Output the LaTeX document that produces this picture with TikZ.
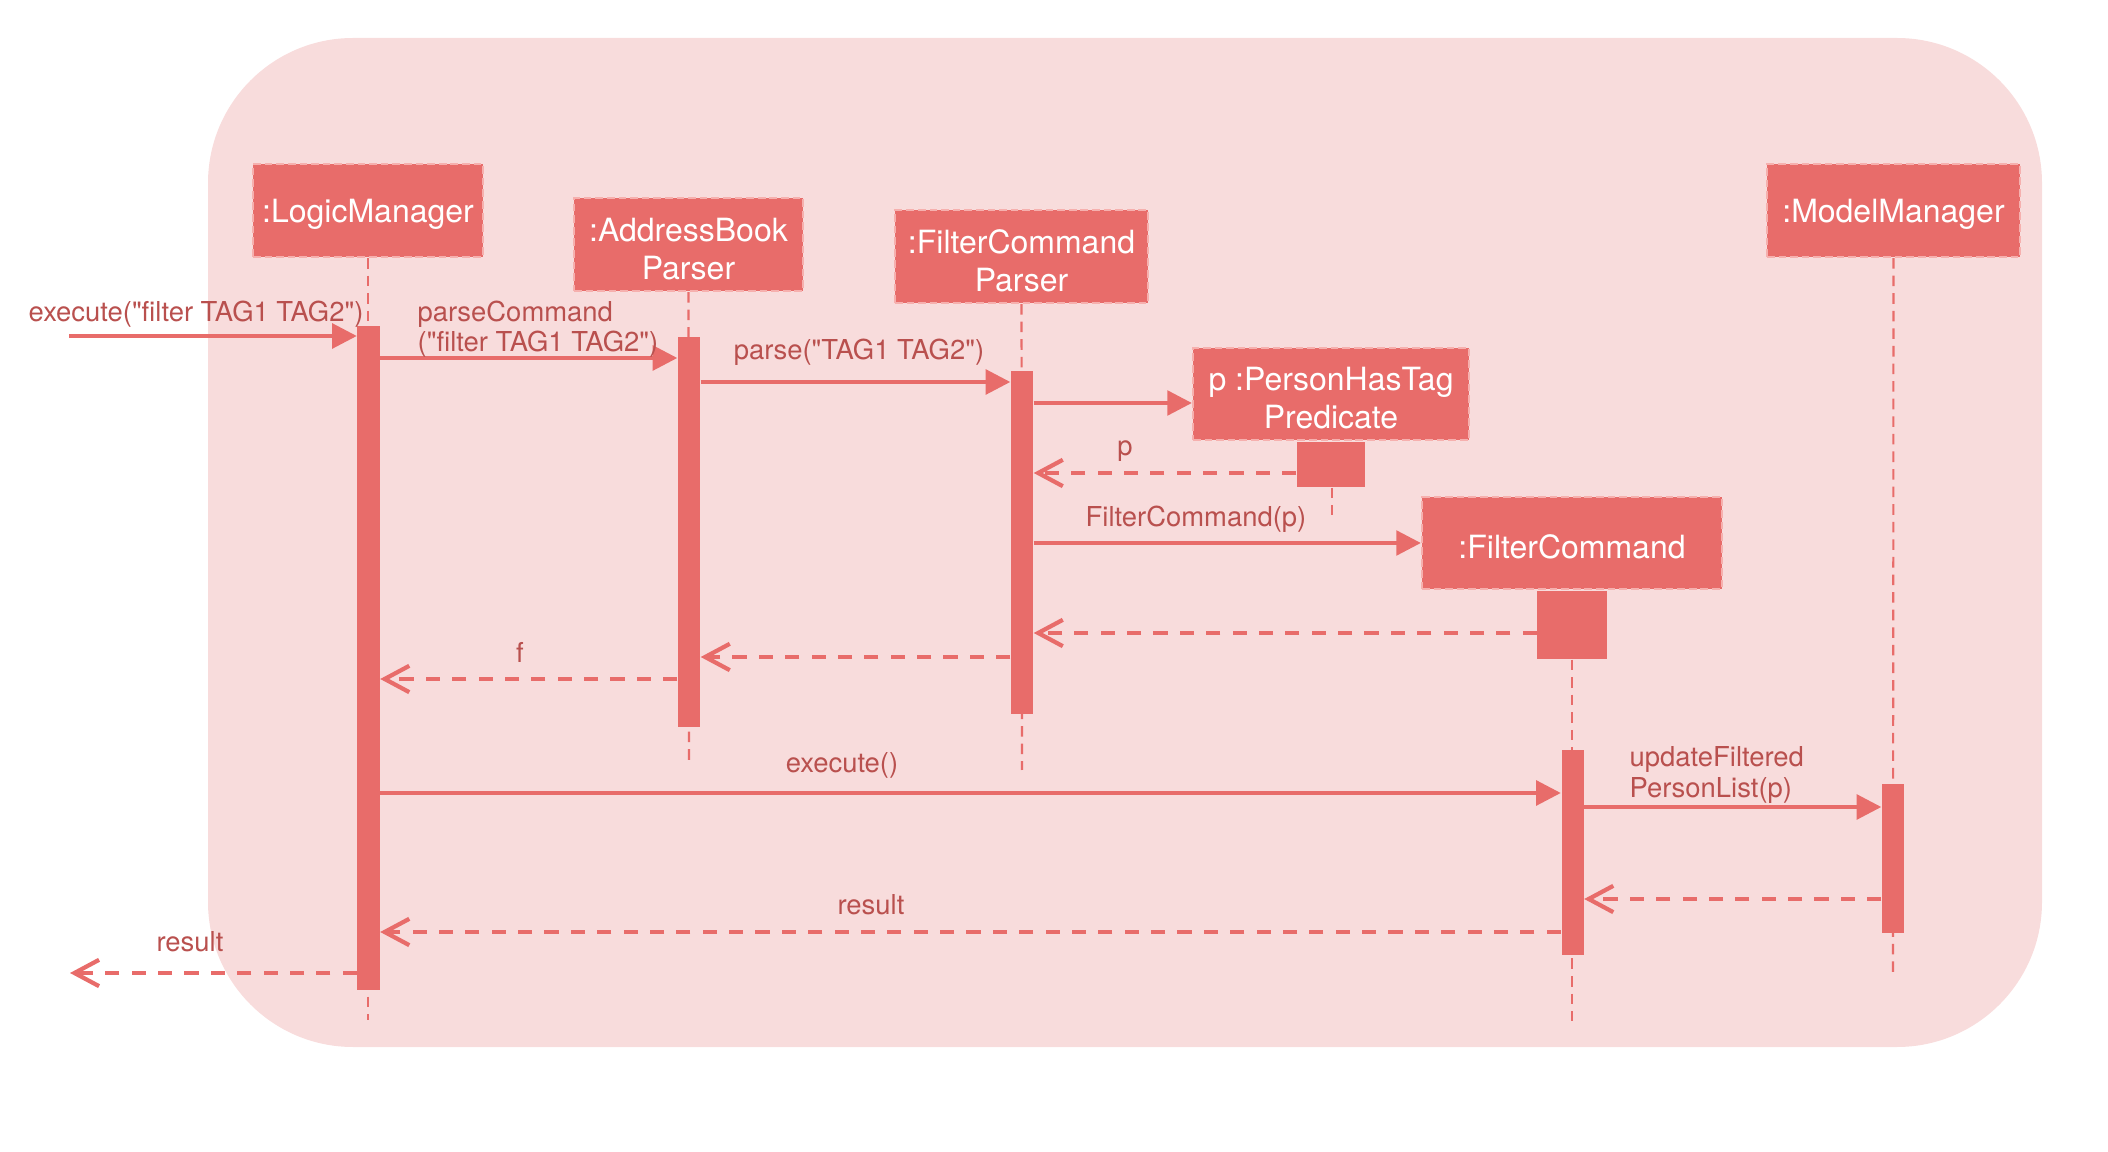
\documentclass[tikz,border=0pt]{standalone}
\usepackage{fontspec}
\setmainfont{TeX Gyre Heros}[Ligatures=TeXOff]
\usetikzlibrary{arrows.meta}
\definecolor{boxred}{HTML}{E86C6A}
\definecolor{bgpink}{HTML}{F8DCDC}
\definecolor{lblred}{HTML}{B9504E}
\definecolor{edgepink}{HTML}{F6B0AE}
\begin{document}
\begin{tikzpicture}[x=0.01cm,y=-0.01cm,
  obj/.style={rectangle, fill=boxred, draw=edgepink, line width=0.6pt, dash pattern=on 2.2pt off 1.1pt, inner sep=0pt},
  objtxt/.style={text=white, font=\fontsize{9.1}{10.8}\selectfont, align=center, inner sep=0pt, yshift=-1.2pt},
  actbar/.style={rectangle, fill=boxred, draw=none, inner sep=0pt, minimum width=0.22cm},
  life/.style={draw=boxred, line width=0.6pt, dash pattern=on 3pt off 2pt},
  call/.style={draw=boxred, line width=1.1pt, -{Triangle[length=7pt,width=7pt]}},
  ret/.style={draw=boxred, line width=1.2pt, dash pattern=on 4pt off 3.5pt, -{Straight Barb[length=7pt,width=7.5pt]}},
  lbl/.style={text=lblred, font=\fontsize{7.8}{8.6}\selectfont, inner sep=0pt},
]
\useasboundingbox (0,0) rectangle (2108,1152);
\fill[bgpink, rounded corners=1.45cm] (208,38) rectangle (2042,1047);

% objects
\node[obj, minimum width=2.30cm, minimum height=0.93cm, label={[objtxt]center::LogicManager}] (lm) at (368,210.5) {};
\node[obj, minimum width=2.29cm, minimum height=0.93cm, label={[objtxt]center:{:AddressBook\\Parser}}] (ap) at (688.5,244.5) {};
\node[obj, minimum width=2.53cm, minimum height=0.93cm, label={[objtxt]center:{:FilterCommand\\Parser}}] (fp) at (1021.5,256.5) {};
\node[obj, minimum width=2.76cm, minimum height=0.92cm, label={[objtxt]center:{p :PersonHasTag\\Predicate}}] (ph) at (1331,394) {};
\node[obj, minimum width=3.00cm, minimum height=0.92cm, label={[objtxt]center::FilterCommand}] (fc) at (1572,543) {};
\node[obj, minimum width=2.53cm, minimum height=0.93cm, label={[objtxt]center::ModelManager}] (mm) at (1893.5,210.5) {};

% stubs under created objects
\node[actbar, minimum width=0.68cm, minimum height=0.45cm, anchor=north] (phstub) at (ph.south) {};
\node[actbar, minimum width=0.69cm, minimum height=0.68cm, anchor=north] (fcstub) at (fc.south) {};

% lifeline ends
\coordinate (lmend) at (368,1020);
\coordinate (apend) at (689,765);
\coordinate (fpend) at (1022,770);
\coordinate (phend) at (1332,515);
\coordinate (fcend) at (1572,1021);
\coordinate (mmend) at (1893,978);

\draw[life] (lm.south) -- (lmend);
\draw[life] (ap.south) -- (apend);
\draw[life] (fp.south) -- (fpend);
\draw[life] (phstub.south -| phend) -- (phend);
\draw[life] (fcstub.south) -- (fcend);
\draw[life] (mm.south) -- (mmend);

% activation bars
\node[actbar, minimum height=6.64cm] (lmbar) at (368.5,658) {};
\node[actbar, minimum height=3.90cm] (apbar) at (689,532) {};
\node[actbar, minimum height=3.43cm] (fpbar) at (1022,542.5) {};
\node[actbar, minimum height=2.05cm] (fcbar) at (1572.5,852.5) {};
\node[actbar, minimum height=1.49cm] (mmbar) at (1893,858.5) {};

% messages
\coordinate (src) at (69,336);
\coordinate (sink) at (70,973);

\draw[call] (src) -- (lmbar.west |- src);
\node[lbl, anchor=base west] (m1) at (28,322) {execute("filter TAG1 TAG2")};

\draw[call] (lmbar.east |- 0,358) -- (apbar.west |- 0,358);
\node[lbl, anchor=west, align=left] (m2) at (417,329) {parseCommand\\("filter TAG1 TAG2")};

\draw[call] (apbar.east |- 0,382) -- (fpbar.west |- 0,382);
\node[lbl, anchor=base] (m3) at (859,360) {parse("TAG1 TAG2")};

\draw[call] (fpbar.east |- 0,403) -- (ph.west |- 0,403);

\draw[ret] (phstub.west |- 0,473) -- (fpbar.east |- 0,473);
\node[lbl, anchor=base] (m5) at (1125,456) {p};

\draw[call] (fpbar.east |- 0,543) -- (fc.west |- 0,543);
\node[lbl, anchor=base] (m6) at (1196,527) {FilterCommand(p)};

\draw[ret] (fcstub.west |- 0,633) -- (fpbar.east |- 0,633);
\draw[ret] (fpbar.west |- 0,657) -- (apbar.east |- 0,657);

\draw[ret] (apbar.west |- 0,679) -- (lmbar.east |- 0,679);
\node[lbl, anchor=base] (m9) at (520,663) {f};

\draw[call] (lmbar.east |- 0,793) -- (fcbar.west |- 0,793);
\node[lbl, anchor=base] (m10) at (842,772) {execute()};

\draw[call] (fcbar.east |- 0,807) -- (mmbar.west |- 0,807);
\node[lbl, anchor=west, align=left] (m11) at (1629,775) {updateFiltered\\PersonList(p)};

\draw[ret] (mmbar.west |- 0,899) -- (fcbar.east |- 0,899);

\draw[ret] (fcbar.west |- 0,932) -- (lmbar.east |- 0,932);
\node[lbl, anchor=base] (m13) at (871,915) {result};

\draw[ret] (lmbar.west |- sink) -- (sink);
\node[lbl, anchor=base] (m14) at (190,952) {result};
\end{tikzpicture}
\end{document}
